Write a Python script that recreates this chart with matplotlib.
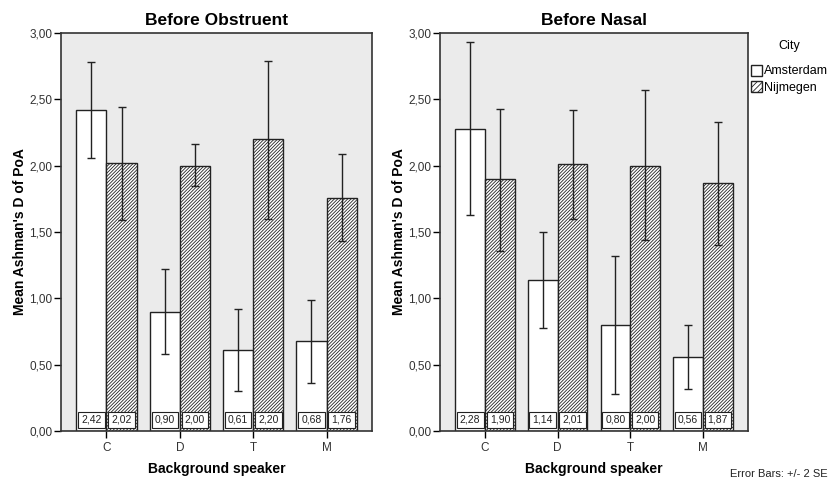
import numpy as np
import matplotlib.pyplot as plt
from matplotlib.patches import Patch

plt.rcParams['font.family'] = ['Liberation Sans', 'DejaVu Sans']
plt.rcParams['hatch.linewidth'] = 0.6

speakers = ["C", "D", "T", "M"]
cities = ["Amsterdam", "Nijmegen"]

# Before Obstruent
obs_ams = [2.42, 0.90, 0.61, 0.68]
obs_ams_hi = [2.78, 1.22, 0.92, 0.99]
obs_ams_lo = [2.06, 0.58, 0.30, 0.36]
obs_nij = [2.02, 2.00, 2.20, 1.76]
obs_nij_hi = [2.44, 2.16, 2.79, 2.09]
obs_nij_lo = [1.59, 1.85, 1.60, 1.43]

# Before Nasal
nas_ams = [2.28, 1.14, 0.80, 0.56]
nas_ams_hi = [2.93, 1.50, 1.32, 0.80]
nas_ams_lo = [1.63, 0.78, 0.28, 0.32]
nas_nij = [1.90, 2.01, 2.00, 1.87]
nas_nij_hi = [2.43, 2.42, 2.57, 2.33]
nas_nij_lo = [1.36, 1.60, 1.44, 1.40]

yticks = [0, 0.5, 1.0, 1.5, 2.0, 2.5, 3.0]
ytick_labels = ["0,00", "0,50", "1,00", "1,50", "2,00", "2,50", "3,00"]

fig = plt.figure(figsize=(8.29, 4.8), dpi=100)
ax1 = fig.add_axes([61/829, 49/480, 311/829, 398/480])
ax2 = fig.add_axes([440/829, 49/480, 308/829, 398/480])

w = 0.41
x = np.arange(len(speakers))
HATCH = "//////////"


def fmt(v):
    return f"{v:.2f}".replace(".", ",")


def panel(ax, title, ams, ams_hi, ams_lo, nij, nij_hi, nij_lo):
    ax.set_facecolor("#ebebeb")
    xa = x - w / 2
    xn = x + w / 2
    ax.bar(xa, ams, w, color="white", edgecolor="#222222", linewidth=1.0, zorder=2)
    ax.bar(xn, nij, w, color="white", edgecolor="#222222", linewidth=1.0,
           hatch=HATCH, zorder=2)
    for xs, m, hi, lo in [(xa, ams, ams_hi, ams_lo), (xn, nij, nij_hi, nij_lo)]:
        m = np.array(m)
        err = [m - np.array(lo), np.array(hi) - m]
        ax.errorbar(xs, m, yerr=err, fmt="none", ecolor="#222222",
                    elinewidth=1.0, capsize=3, capthick=1.0, zorder=3)
        for xi, v in zip(xs, m):
            ax.text(xi, 0.083, fmt(v), ha="center", va="center", fontsize=7.5,
                    color="#222222", zorder=4,
                    bbox=dict(boxstyle="square,pad=0.3", fc="white",
                              ec="#222222", lw=0.8))
    ax.set_xlim(-0.62, 3.62)
    ax.set_ylim(0, 3.0)
    ax.set_yticks(yticks)
    ax.set_yticklabels(ytick_labels, fontsize=8.5, color="#333333")
    ax.set_xticks(x)
    ax.set_xticklabels(speakers, fontsize=8.5, color="#333333")
    ax.tick_params(axis="y", length=5, width=1.0, pad=1)
    ax.tick_params(axis="x", length=5, width=1.0, pad=3)
    for s in ax.spines.values():
        s.set_linewidth(1.2)
        s.set_color("#333333")
    ax.set_title(title, fontsize=12.5, fontweight="bold", pad=6)
    ax.set_xlabel("Background speaker", fontsize=10, fontweight="bold", labelpad=6)
    ax.set_ylabel("Mean Ashman's D of PoA", fontsize=10, fontweight="bold", labelpad=2)


panel(ax1, "Before Obstruent", obs_ams, obs_ams_hi, obs_ams_lo,
      obs_nij, obs_nij_hi, obs_nij_lo)
panel(ax2, "Before Nasal", nas_ams, nas_ams_hi, nas_ams_lo,
      nas_nij, nas_nij_hi, nas_nij_lo)

handles = [Patch(facecolor="white", edgecolor="#222222", label=cities[0]),
           Patch(facecolor="white", edgecolor="#222222", hatch="//////", label=cities[1])]
leg = fig.legend(handles=handles, title="City", loc="upper left",
                 bbox_to_anchor=(751/829, 1 - 40/480), frameon=False,
                 fontsize=9, title_fontsize=9, handlelength=0.9,
                 handleheight=1.0, handletextpad=0.12, labelspacing=0.3,
                 borderpad=0, borderaxespad=0)
leg._legend_box.sep = 9

fig.text(828/829, 1 - 474/480, "Error Bars: +/- 2 SE", ha="right", va="center",
         fontsize=8, color="#222222")

fig.savefig("out.png", dpi=100)
